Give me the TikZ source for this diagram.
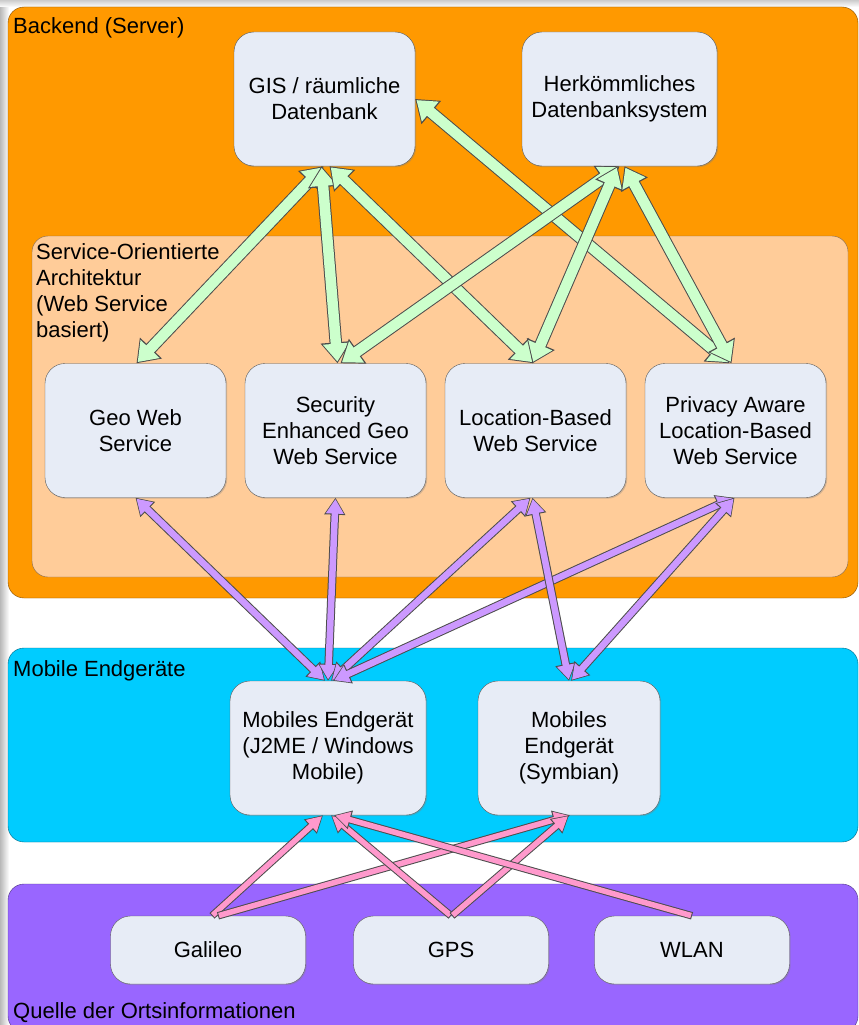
\documentclass[tikz,border=0pt]{standalone}
\usepackage{fontspec}
\setmainfont{Liberation Sans}
\usepackage{xcolor}
\usepackage{tikz}
\usetikzlibrary{arrows.meta, shadows}

\definecolor{backendorange}{RGB}{255,153,0}
\definecolor{soapeach}{RGB}{255,204,153}
\definecolor{mobilecyan}{RGB}{0,204,255}
\definecolor{quellelila}{RGB}{153,102,255}
\definecolor{knotenfill}{RGB}{231,236,246}
\definecolor{gruenfill}{RGB}{204,255,204}
\definecolor{lilafill}{RGB}{204,153,255}
\definecolor{rosafill}{RGB}{255,153,204}

\begin{document}
\begin{tikzpicture}[x=1pt, y=-1pt, line join=round,
	every node/.style={font=\fontsize{22}{26}\selectfont},
	knoten/.style={draw=black!65, fill=knotenfill, rounded corners=20pt, align=center,
		inner sep=1pt, minimum width=181pt, minimum height=134pt,
		drop shadow={shadow xshift=1.2pt, shadow yshift=-1.2pt, opacity=0.35}},
	quelle/.style={knoten, minimum width=195pt, minimum height=68pt},
	titel/.style={anchor=base west, inner sep=1pt},
	gruen/.style={draw=black!70, line width=12.5pt,
		arrows={Triangle[length=21pt,width=29pt]-Triangle[length=21pt,width=29pt]},
		postaction={draw=gruenfill, line width=10.5pt, shorten <=1.7pt, shorten >=1.7pt,
			arrows={Triangle[length=18pt,width=25pt]-Triangle[length=18pt,width=25pt]}}},
	lila/.style={draw=black!70, line width=8.5pt,
		arrows={Triangle[length=17pt,width=20pt]-Triangle[length=17pt,width=20pt]},
		postaction={draw=lilafill, line width=6.5pt, shorten <=1.4pt, shorten >=1.4pt,
			arrows={Triangle[length=14.5pt,width=17pt]-Triangle[length=14.5pt,width=17pt]}}},
	rosa/.style={draw=black!70, line width=7.5pt,
		arrows={-Triangle[length=17pt,width=18pt]},
		postaction={draw=rosafill, line width=5.5pt, shorten <=1pt, shorten >=1.4pt,
			arrows={-Triangle[length=14.5pt,width=15pt]}}}]
	\useasboundingbox (0,0) rectangle (859,1025);
	\fill[white] (0,0) rectangle (859,1025);
	\shade[left color=gray!55, right color=white] (0,0) rectangle (9,1025);
	\shade[top color=gray!40, bottom color=white] (0,0) rectangle (859,7);

	\draw[draw=black!50!backendorange, fill=backendorange, rounded corners=16pt] (8,7) rectangle (858,598);
	\draw[draw=black!50!soapeach, fill=soapeach, rounded corners=16pt] (32,236) rectangle (848,577);
	\draw[draw=black!50!mobilecyan, fill=mobilecyan, rounded corners=16pt] (8,648) rectangle (858,842);
	\draw[draw=black!50!quellelila, fill=quellelila, rounded corners=16pt] (8,884) rectangle (858,1032);

	\node[titel] (backendtitel) at (12,34) {Backend (Server)};
	\node[anchor=north west, align=left, inner sep=1pt] (soatitel) at (35,242)
		{Service-Orientierte\\Architektur\\(Web Service\\basiert)};
	\node[titel] (mobiltitel) at (12,676) {Mobile Endgeräte};
	\node[titel] (quelletitel) at (12,1018) {Quelle der Ortsinformationen};

	\node[knoten] (gis) at (324.5,99) {GIS / räumliche\\Datenbank};
	\node[knoten, minimum width=195pt] (dbms) at (619.5,99) {Herkömmliches\\Datenbanksystem};
	\node[knoten] (geo) at (135.5,430.5) {Geo Web\\Service};
	\node[knoten] (sec) at (335.5,430.5) {Security\\Enhanced Geo\\Web Service};
	\node[knoten] (loc) at (535.5,430.5) {Location-Based\\Web Service};
	\node[knoten] (priv) at (735.5,430.5) {Privacy Aware\\Location-Based\\Web Service};
	\node[knoten, minimum width=196pt] (jme) at (328,748) {Mobiles Endgerät\\(J2ME / Windows\\Mobile)};
	\node[knoten, minimum width=182pt] (symb) at (569,748) {Mobiles\\Endgerät\\(Symbian)};
	\node[quelle] (galileo) at (208,950) {Galileo};
	\node[quelle] (gps) at (451,950) {GPS};
	\node[quelle] (wlan) at (692,950) {WLAN};

	\draw[gruen] ([xshift=-1pt]gis.south) -- ([xshift=1pt]geo.north);
	\draw[gruen] ([xshift=-3pt]gis.south) -- ([xshift=2pt]sec.north);
	\draw[gruen] ([xshift=5pt]gis.south) -- ([xshift=-2pt]loc.north);
	\draw[gruen] (gis.east) -- ([xshift=-6pt]priv.north);
	\draw[gruen] (dbms.south) -- ([xshift=5pt]sec.north);
	\draw[gruen] ([xshift=-2pt]dbms.south) -- ([xshift=-3pt]loc.north);
	\draw[gruen] ([xshift=5pt]dbms.south) -- ([xshift=-4pt]priv.north);

	\draw[lila] ([xshift=-3pt]jme.north) -- (geo.south);
	\draw[lila] (jme.north) -- (sec.south);
	\draw[lila] ([xshift=3pt]jme.north) -- ([xshift=-5pt]loc.south);
	\draw[lila] ([xshift=5pt]jme.north) -- ([xshift=-2pt]priv.south);
	\draw[lila] (symb.north) -- ([xshift=-3pt]loc.south);
	\draw[lila] ([xshift=2pt]symb.north) -- ([xshift=-1pt]priv.south);

	\draw[rosa] ([xshift=4pt]galileo.north) -- ([xshift=-5pt]jme.south);
	\draw[rosa] ([xshift=10pt]galileo.north) -- ([xshift=1pt]symb.south);
	\draw[rosa] (gps.north) -- ([xshift=3pt]jme.south);
	\draw[rosa] ([xshift=1pt]gps.north) -- (symb.south);
	\draw[rosa] (wlan.north) -- ([xshift=6pt]jme.south);
\end{tikzpicture}
\end{document}
